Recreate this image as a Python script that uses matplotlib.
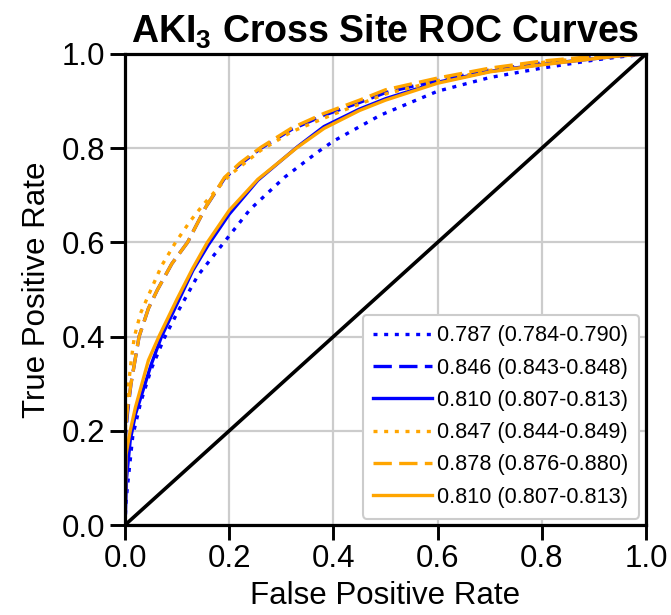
import matplotlib
matplotlib.use("Agg")
import matplotlib.pyplot as plt

plt.rcParams['font.family'] = ['Liberation Sans', 'DejaVu Sans']

labels = ["0.787 (0.784-0.790)", "0.846 (0.843-0.848)", "0.810 (0.807-0.813)",
          "0.847 (0.844-0.849)", "0.878 (0.876-0.880)", "0.810 (0.807-0.813)"]

# blue dotted
fpr_b1 = [0, 0.002, 0.005, 0.015, 0.03, 0.05, 0.075, 0.1, 0.14, 0.19, 0.24, 0.306, 0.37, 0.4, 0.49, 0.6, 0.7, 0.8, 0.9, 0.95, 1.0]
tpr_b1 = [0, 0.05, 0.085, 0.19, 0.26, 0.33, 0.396, 0.45, 0.53, 0.60, 0.67, 0.738, 0.792, 0.815, 0.870, 0.921, 0.950, 0.970, 0.987, 0.994, 1.0]
# blue dashed
fpr_b2 = [0, 0.001, 0.005, 0.0115, 0.027, 0.045, 0.0625, 0.09, 0.12, 0.155, 0.191, 0.22, 0.261, 0.32, 0.382, 0.45, 0.5, 0.6, 0.7, 0.8, 0.9, 0.95, 1.0]
tpr_b2 = [0, 0.19, 0.24, 0.30, 0.40, 0.46, 0.50, 0.555, 0.60, 0.675, 0.736, 0.765, 0.800, 0.840, 0.870, 0.897, 0.918, 0.944, 0.966, 0.981, 0.993, 0.997, 1.0]
# blue solid
fpr_b3 = [0, 0.003, 0.01, 0.02, 0.03, 0.05, 0.07, 0.1, 0.13, 0.16, 0.2, 0.255, 0.331, 0.382, 0.45, 0.5, 0.6, 0.7, 0.8, 0.9, 0.95, 1.0]
tpr_b3 = [0, 0.10, 0.18, 0.235, 0.27, 0.34, 0.40, 0.47, 0.54, 0.595, 0.66, 0.732, 0.803, 0.846, 0.883, 0.905, 0.940, 0.963, 0.978, 0.990, 0.996, 1.0]
# orange dotted
fpr_o1 = [0, 0.001, 0.003, 0.007, 0.012, 0.018, 0.03, 0.05, 0.07, 0.097, 0.125, 0.15, 0.2, 0.26, 0.32, 0.4, 0.5, 0.6, 0.7, 0.8, 0.9, 0.95, 1.0]
tpr_o1 = [0, 0.22, 0.26, 0.30, 0.35, 0.40, 0.45, 0.50, 0.55, 0.60, 0.645, 0.68, 0.742, 0.795, 0.835, 0.872, 0.915, 0.943, 0.965, 0.982, 0.993, 0.997, 1.0]
# orange dashed
fpr_o2 = [0, 0.001, 0.005, 0.0115, 0.027, 0.045, 0.0625, 0.09, 0.12, 0.155, 0.191, 0.22, 0.261, 0.32, 0.382, 0.45, 0.5, 0.6, 0.7, 0.8, 0.9, 0.95, 1.0]
tpr_o2 = [0, 0.20, 0.25, 0.30, 0.40, 0.46, 0.50, 0.555, 0.60, 0.675, 0.738, 0.768, 0.802, 0.843, 0.874, 0.902, 0.924, 0.949, 0.970, 0.985, 0.995, 0.998, 1.0]
# orange solid
fpr_o3 = [0, 0.002, 0.01, 0.02, 0.03, 0.045, 0.065, 0.1, 0.13, 0.158, 0.2, 0.255, 0.331, 0.382, 0.45, 0.5, 0.6, 0.7, 0.8, 0.9, 0.95, 1.0]
tpr_o3 = [0, 0.15, 0.20, 0.25, 0.29, 0.35, 0.40, 0.48, 0.545, 0.60, 0.668, 0.734, 0.802, 0.842, 0.880, 0.902, 0.938, 0.962, 0.977, 0.990, 0.996, 1.0]

diag = [0.0, 1.0]
ticks = [0.0, 0.2, 0.4, 0.6, 0.8, 1.0]
tick_labels = ["0.0", "0.2", "0.4", "0.6", "0.8", "1.0"]

fig = plt.figure(figsize=(6.71, 6.15), dpi=100)
ax = fig.add_axes([0.1863, 0.1463, 0.7764, 0.7659])

lw = 2.4
dot = (1.2, 2.0)
dash = (5.5, 2.2)
ax.plot(fpr_b1, tpr_b1, color='blue', lw=lw, linestyle=(0, dot), label=labels[0])
ax.plot(fpr_b2, tpr_b2, color='blue', lw=lw, linestyle=(0, dash), label=labels[1])
ax.plot(fpr_b3, tpr_b3, color='blue', lw=lw, linestyle='-', label=labels[2])
ax.plot(fpr_o1, tpr_o1, color='orange', lw=lw, linestyle=(0, dot), label=labels[3])
ax.plot(fpr_o2, tpr_o2, color='orange', lw=lw, linestyle=(0, dash), label=labels[4])
ax.plot(fpr_o3, tpr_o3, color='orange', lw=lw, linestyle='-', label=labels[5])
ax.plot(diag, diag, color='black', lw=2.6)

ax.set_xlim(0, 1)
ax.set_ylim(0, 1)
ax.set_xticks(ticks)
ax.set_xticklabels(tick_labels)
ax.set_yticks(ticks)
ax.set_yticklabels(tick_labels)
ax.grid(True, color='#cccccc', lw=1.6)
ax.set_axisbelow(True)
for s in ax.spines.values():
    s.set_linewidth(2.3)
    s.set_color('black')
ax.tick_params(axis='both', direction='out', length=11, width=2.1, labelsize=22.5, pad=3)

ax.set_xlabel("False Positive Rate", fontsize=22.5, labelpad=5)
ax.set_ylabel("True Positive Rate", fontsize=22.5, labelpad=7)
ax.set_title(r"AKI$_\mathregular{3}$ Cross Site ROC Curves", fontsize=27, fontweight='bold', pad=8)

leg = ax.legend(loc='lower right', fontsize=15.6, handlelength=2.7, borderaxespad=0.3,
                labelspacing=0.52, handletextpad=0.25, framealpha=1, fancybox=True,
                borderpad=0.5)
leg.get_frame().set_edgecolor('#cccccc')
leg.get_frame().set_linewidth(1.5)

fig.savefig("out.png", dpi=100)
